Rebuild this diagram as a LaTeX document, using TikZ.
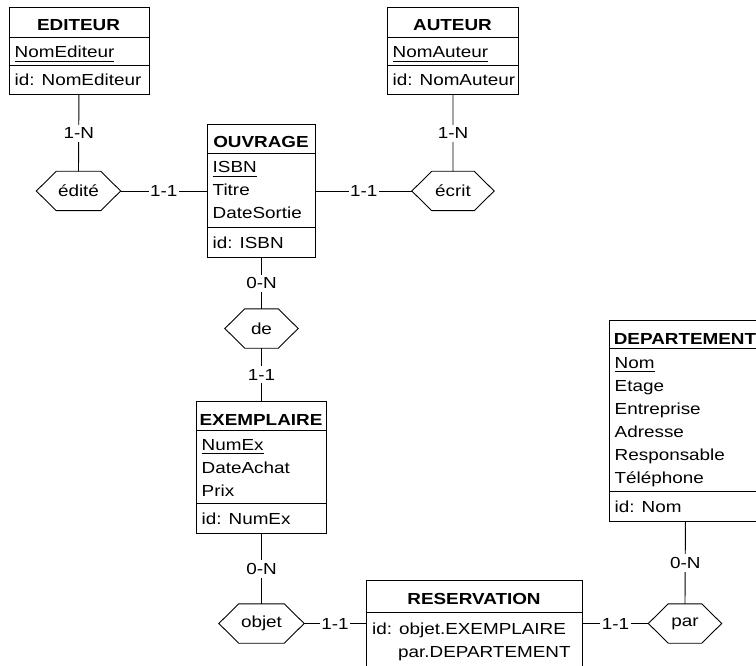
\documentclass[tikz,border=0pt]{standalone}
\usepackage{fontspec}
\setmainfont{Liberation Sans}[FakeStretch=1.18]

% underlined identifier attribute
\newcommand\keyattr[1]{\setbox0\hbox{#1}\rlap{\rule[-4pt]{\wd0}{1.2pt}}\box0}
% hexagonal relationship outline around a named node
\newcommand\hexdraw[1]{\draw[link] (#1.west) -- ([xshift=20pt]#1.north west) -- ([xshift=-20pt]#1.north east) -- (#1.east) -- ([xshift=-20pt]#1.south east) -- ([xshift=20pt]#1.south west) -- cycle;}
\newcommand\diagfont{\fontsize{16}{23}\selectfont}

\tikzset{
  ent/.style={draw, line width=0.9pt, inner sep=0, anchor=north west},
  ttl/.style={anchor=base, font=\diagfont\bfseries, inner sep=0},
  att/.style={anchor=base west, inner sep=0},
  hexnode/.style={inner sep=0, minimum height=39pt},
  card/.style={fill=white, inner xsep=1.5pt, inner ysep=3pt},
  link/.style={line width=0.9pt},
  sep/.style={line width=0.9pt},
}

\begin{document}
\begin{tikzpicture}[x=1pt, y=-1pt, font=\diagfont]
\useasboundingbox (0,0) rectangle (756,666);
\clip (0,0) rectangle (756,666);

% ---------- EDITEUR ----------
\node[ent, minimum width=140pt, minimum height=87pt] (editeur) at (8.5,7) {};
\draw[sep] (8.5,37) -- (148.5,37);
\draw[sep] (8.5,65) -- (148.5,65);
\node[ttl] (editeurT) at (78.5,31) {EDITEUR};
\node[att] (editeurA1) at (14.5,58) {\keyattr{NomEditeur}};
\node[att] (editeurId) at (14.5,86) {id: NomEditeur};

% ---------- AUTEUR ----------
\node[ent, minimum width=131pt, minimum height=87pt] (auteur) at (387,7) {};
\draw[sep] (387,37) -- (518,37);
\draw[sep] (387,65) -- (518,65);
\node[ttl] (auteurT) at (452.5,31) {AUTEUR};
\node[att] (auteurA1) at (392.5,58) {\keyattr{NomAuteur}};
\node[att] (auteurId) at (392.5,86) {id: NomAuteur};

% ---------- OUVRAGE ----------
\node[ent, minimum width=108pt, minimum height=133pt] (ouvrage) at (207,124) {};
\draw[sep] (207,153) -- (315,153);
\draw[sep] (207,227) -- (315,227);
\node[ttl] (ouvrageT) at (261,148) {OUVRAGE};
\node[att] (ouvrageA1) at (212.5,173) {\keyattr{ISBN}};
\node[att] (ouvrageA2) at (212.5,196) {Titre};
\node[att] (ouvrageA3) at (212.5,219) {DateSortie};
\node[att] (ouvrageId) at (212.5,248) {id: ISBN};

% ---------- EXEMPLAIRE ----------
\node[ent, minimum width=130pt, minimum height=132pt] (exemplaire) at (196,401) {};
\draw[sep] (196,430) -- (326,430);
\draw[sep] (196,503) -- (326,503);
\node[ttl] (exemplaireT) at (261,425) {EXEMPLAIRE};
\node[att] (exemplaireA1) at (201.5,450) {\keyattr{NumEx}};
\node[att] (exemplaireA2) at (201.5,473) {DateAchat};
\node[att] (exemplaireA3) at (201.5,496) {Prix};
\node[att] (exemplaireId) at (201.5,524) {id: NumEx};

% ---------- DEPARTEMENT ----------
\node[ent, minimum width=152pt, minimum height=201pt] (departement) at (609,320) {};
\draw[sep] (609,348) -- (761,348);
\draw[sep] (609,491) -- (761,491);
\node[ttl] (departementT) at (685,344) {DEPARTEMENT};
\node[att] (departementA1) at (614.5,368) {\keyattr{Nom}};
\node[att] (departementA2) at (614.5,391) {Etage};
\node[att] (departementA3) at (614.5,414) {Entreprise};
\node[att] (departementA4) at (614.5,437) {Adresse};
\node[att] (departementA5) at (614.5,460) {Responsable};
\node[att] (departementA6) at (614.5,483) {Téléphone};
\node[att] (departementId) at (614.5,512) {id: Nom};

% ---------- RESERVATION ----------
\node[ent, minimum width=216pt, minimum height=120pt] (reservation) at (366,580) {};
\draw[sep] (366,612) -- (582,612);
\node[ttl] (reservationT) at (474,604) {RESERVATION};
\node[att] (reservationId) at (372,634) {id: objet.EXEMPLAIRE};
\node[att] (reservationId2) at (398,657) {par.DEPARTEMENT};

% ---------- relationships ----------
\node[hexnode, minimum width=84pt] (edite) at (78.5,191) {édité};
\node[hexnode, minimum width=82pt] (ecrit) at (453,191) {écrit};
\node[hexnode, minimum width=73pt] (de) at (261.5,328.5) {de};
\node[hexnode, minimum width=85pt] (objet) at (261.5,623.5) {objet};
\node[hexnode, minimum width=73pt] (par) at (685,623.5) {par};
\hexdraw{edite}
\hexdraw{ecrit}
\hexdraw{de}
\hexdraw{objet}
\hexdraw{par}

% ---------- connectors with cardinalities ----------
\draw[link] (editeur.south) -- node[card] {1-N} (edite.north);
\draw[link] (edite.east) -- node[card] {1-1} (edite.east -| ouvrage.west);
\draw[link] (auteur.south) -- node[card] {1-N} (ecrit.north);
\draw[link] (ecrit.west) -- node[card] {1-1} (ecrit.west -| ouvrage.east);
\draw[link] (ouvrage.south) -- node[card] {0-N} (de.north);
\draw[link] (de.south) -- node[card] {1-1} (de.south |- exemplaire.north);
\draw[link] (exemplaire.south) -- node[card] {0-N} (objet.north);
\draw[link] (objet.east) -- node[card] {1-1} (objet.east -| reservation.west);
\draw[link] (par.west) -- node[card] {1-1} (par.west -| reservation.east);
\draw[link] (departement.south) -- node[card] {0-N} (par.north);
\end{tikzpicture}
\end{document}
